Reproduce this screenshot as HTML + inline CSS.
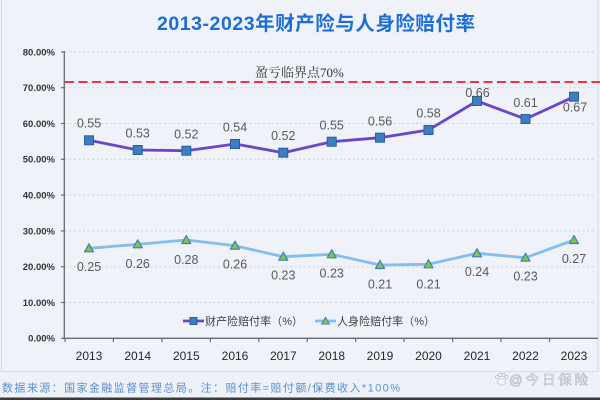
<!DOCTYPE html>
<html>
<head>
<meta charset="utf-8">
<style>
  html, body { margin:0; padding:0; background:#eef2f8; }
  body { width:600px; height:400px; overflow:hidden; }
  svg { display:block; }
  text { font-family: "Liberation Sans", "Noto Sans CJK SC", sans-serif; }
</style>
</head>
<body>
<svg width="600" height="400" viewBox="0 0 600 400" xmlns="http://www.w3.org/2000/svg">
  <rect x="0" y="0" width="600" height="400" fill="#eef2f8"/>
  <!-- outer box -->
  <rect x="1.5" y="-2" width="596.5" height="373.7" fill="#eff3f9" stroke="#c3e1ee" stroke-width="1"/>

  <!-- title -->
  <text x="157" y="30" font-size="19.5" font-weight="bold" fill="#1c6dd6" textLength="318" lengthAdjust="spacing">2013-2023年财产险与人身险赔付率</text>

  <!-- gridlines -->
  <g stroke="#cdd2d8" stroke-width="1" stroke-dasharray="2 2.5">
    <line x1="65" y1="51.9" x2="596" y2="51.9"/>
    <line x1="65" y1="87.7" x2="596" y2="87.7"/>
    <line x1="65" y1="123.5" x2="596" y2="123.5"/>
    <line x1="65" y1="159.3" x2="596" y2="159.3"/>
    <line x1="65" y1="195.1" x2="596" y2="195.1"/>
    <line x1="65" y1="230.9" x2="596" y2="230.9"/>
    <line x1="65" y1="266.7" x2="596" y2="266.7"/>
    <line x1="65" y1="302.5" x2="596" y2="302.5"/>
  </g>

  <!-- y axis -->
  <line x1="64.3" y1="51" x2="64.3" y2="338.3" stroke="#6a6a6a" stroke-width="1.3"/>
  <g stroke="#6a6a6a" stroke-width="1.2">
    <line x1="61" y1="51.9" x2="64.3" y2="51.9"/>
    <line x1="61" y1="87.7" x2="64.3" y2="87.7"/>
    <line x1="61" y1="123.5" x2="64.3" y2="123.5"/>
    <line x1="61" y1="159.3" x2="64.3" y2="159.3"/>
    <line x1="61" y1="195.1" x2="64.3" y2="195.1"/>
    <line x1="61" y1="230.9" x2="64.3" y2="230.9"/>
    <line x1="61" y1="266.7" x2="64.3" y2="266.7"/>
    <line x1="61" y1="302.5" x2="64.3" y2="302.5"/>
    <line x1="61" y1="338.3" x2="64.3" y2="338.3"/>
  </g>
  <g font-size="9.5" font-weight="bold" fill="#333" text-anchor="end">
    <text x="55" y="55.3">80.00%</text>
    <text x="55" y="91.1">70.00%</text>
    <text x="55" y="126.9">60.00%</text>
    <text x="55" y="162.7">50.00%</text>
    <text x="55" y="198.5">40.00%</text>
    <text x="55" y="234.3">30.00%</text>
    <text x="55" y="270.1">20.00%</text>
    <text x="55" y="305.9">10.00%</text>
    <text x="55" y="341.7">0.00%</text>
  </g>

  <!-- x axis -->
  <line x1="63" y1="338.3" x2="598" y2="338.3" stroke="#6a6a6a" stroke-width="1.3"/>
  <g stroke="#6a6a6a" stroke-width="1.2">
    <line x1="65" y1="338" x2="65" y2="342"/>
    <line x1="113.4" y1="338" x2="113.4" y2="342"/>
    <line x1="161.9" y1="338" x2="161.9" y2="342"/>
    <line x1="210.3" y1="338" x2="210.3" y2="342"/>
    <line x1="258.8" y1="338" x2="258.8" y2="342"/>
    <line x1="307.2" y1="338" x2="307.2" y2="342"/>
    <line x1="355.7" y1="338" x2="355.7" y2="342"/>
    <line x1="404.1" y1="338" x2="404.1" y2="342"/>
    <line x1="452.6" y1="338" x2="452.6" y2="342"/>
    <line x1="501" y1="338" x2="501" y2="342"/>
    <line x1="549.5" y1="338" x2="549.5" y2="342"/>
  </g>
  <g font-size="12" fill="#262626" text-anchor="middle">
    <text x="89" y="360">2013</text>
    <text x="137.7" y="360">2014</text>
    <text x="186.3" y="360">2015</text>
    <text x="235" y="360">2016</text>
    <text x="283.3" y="360">2017</text>
    <text x="331.7" y="360">2018</text>
    <text x="380" y="360">2019</text>
    <text x="428.5" y="360">2020</text>
    <text x="477" y="360">2021</text>
    <text x="525.5" y="360">2022</text>
    <text x="574" y="360">2023</text>
  </g>

  <!-- red threshold line -->
  <line x1="65" y1="82" x2="600" y2="82" stroke="#f2333c" stroke-width="2" stroke-dasharray="9 4.5"/>
  <text x="255" y="77" font-size="13" fill="#333" style='font-family:"Liberation Serif","Noto Serif CJK SC",serif;'>盈亏临界点70%</text>

  <!-- property insurance line -->
  <polyline fill="none" stroke="#6b46c9" stroke-width="2.8" stroke-linejoin="round"
    points="89,140.3 137.7,150 186.3,150.7 235,144 283.3,152.7 331.7,141.7 380,137.7 428.5,130 477,101 525.5,119 574,96.7"/>
  <g fill="#3b7ec4" stroke="#2a5d9a" stroke-width="1">
    <rect x="84.5" y="135.8" width="9" height="9"/>
    <rect x="133.2" y="145.5" width="9" height="9"/>
    <rect x="181.8" y="146.2" width="9" height="9"/>
    <rect x="230.5" y="139.5" width="9" height="9"/>
    <rect x="278.8" y="148.2" width="9" height="9"/>
    <rect x="327.2" y="137.2" width="9" height="9"/>
    <rect x="375.5" y="133.2" width="9" height="9"/>
    <rect x="424" y="125.5" width="9" height="9"/>
    <rect x="472.5" y="96.5" width="9" height="9"/>
    <rect x="521" y="114.5" width="9" height="9"/>
    <rect x="569.5" y="92.2" width="9" height="9"/>
  </g>

  <!-- life insurance line -->
  <polyline fill="none" stroke="#84bdf0" stroke-width="2.8" stroke-linejoin="round"
    points="89,248.3 137.7,244.3 186.3,240 235,245.7 283.3,256.7 331.7,254.3 380,265 428.5,264.3 477,253.3 525.5,257.7 574,240"/>
  <g fill="#86c540" stroke="#3b7ec4" stroke-width="1.2" stroke-linejoin="round">
    <polygon points="89,243.8 93.5,251.8 84.5,251.8"/>
    <polygon points="137.7,239.8 142.2,247.8 133.2,247.8"/>
    <polygon points="186.3,235.5 190.8,243.5 181.8,243.5"/>
    <polygon points="235,241.2 239.5,249.2 230.5,249.2"/>
    <polygon points="283.3,252.2 287.8,260.2 278.8,260.2"/>
    <polygon points="331.7,249.8 336.2,257.8 327.2,257.8"/>
    <polygon points="380,260.5 384.5,268.5 375.5,268.5"/>
    <polygon points="428.5,259.8 433,267.8 424,267.8"/>
    <polygon points="477,248.8 481.5,256.8 472.5,256.8"/>
    <polygon points="525.5,253.2 530,261.2 521,261.2"/>
    <polygon points="574,235.5 578.5,243.5 569.5,243.5"/>
  </g>

  <!-- data labels property -->
  <g font-size="12.5" fill="#595959" text-anchor="middle">
    <text x="89" y="127.5">0.55</text>
    <text x="137.7" y="137.5">0.53</text>
    <text x="186.3" y="138.5">0.52</text>
    <text x="235" y="131.5">0.54</text>
    <text x="283.3" y="140.2">0.52</text>
    <text x="331.7" y="129.5">0.55</text>
    <text x="380" y="125.5">0.56</text>
    <text x="428.5" y="117.5">0.58</text>
    <text x="477.5" y="97.2">0.66</text>
    <text x="525.5" y="107.2">0.61</text>
    <text x="575" y="111.5">0.67</text>
  </g>
  <!-- data labels life -->
  <g font-size="12.5" fill="#595959" text-anchor="middle">
    <text x="89" y="271.2">0.25</text>
    <text x="137.7" y="267.8">0.26</text>
    <text x="186.3" y="263.8">0.28</text>
    <text x="235" y="268.5">0.26</text>
    <text x="283.3" y="279.5">0.23</text>
    <text x="331.7" y="277.5">0.23</text>
    <text x="380" y="288.5">0.21</text>
    <text x="428.5" y="288.5">0.21</text>
    <text x="477" y="276.2">0.24</text>
    <text x="525.5" y="280.5">0.23</text>
    <text x="574" y="262.8">0.27</text>
  </g>

  <!-- legend -->
  <line x1="183" y1="321" x2="204" y2="321" stroke="#6b46c9" stroke-width="2.8"/>
  <rect x="190" y="317.5" width="7" height="7" fill="#3b7ec4" stroke="#2a5d9a" stroke-width="1"/>
  <text x="205" y="325" font-size="11" fill="#404040" textLength="98" lengthAdjust="spacing">财产险赔付率（%）</text>
  <line x1="315" y1="321" x2="336" y2="321" stroke="#84bdf0" stroke-width="2.8"/>
  <polygon points="325.5,317.3 329.3,324 321.7,324" fill="#86c540" stroke="#3b7ec4" stroke-width="1"/>
  <text x="337" y="325" font-size="11" fill="#404040" textLength="98" lengthAdjust="spacing">人身险赔付率（%）</text>

  <!-- source note -->
  <text x="2" y="391.5" font-size="11" fill="#5b8fd0" textLength="398" lengthAdjust="spacing">数据来源：国家金融监督管理总局。注：赔付率=赔付额/保费收入*100%</text>

  <!-- watermark -->
  <g fill="#f4f6f8" stroke="#b9bec4" stroke-width="0.7">
    <ellipse cx="501.5" cy="382" rx="4" ry="3.2"/>
    <circle cx="497" cy="377" r="1.6"/>
    <circle cx="500" cy="375" r="1.6"/>
    <circle cx="503.5" cy="375" r="1.6"/>
    <circle cx="506.5" cy="377" r="1.6"/>
  </g>
  <text x="509" y="384.5" font-size="13.5" fill="#f4f6f8" stroke="#b4b9bf" stroke-width="0.6" textLength="79" lengthAdjust="spacing">@今日保险</text>

  <!-- bottom dark bar -->
  <rect x="0" y="397.5" width="600" height="3" fill="#3a3a3a"/>
</svg>
</body>
</html>
